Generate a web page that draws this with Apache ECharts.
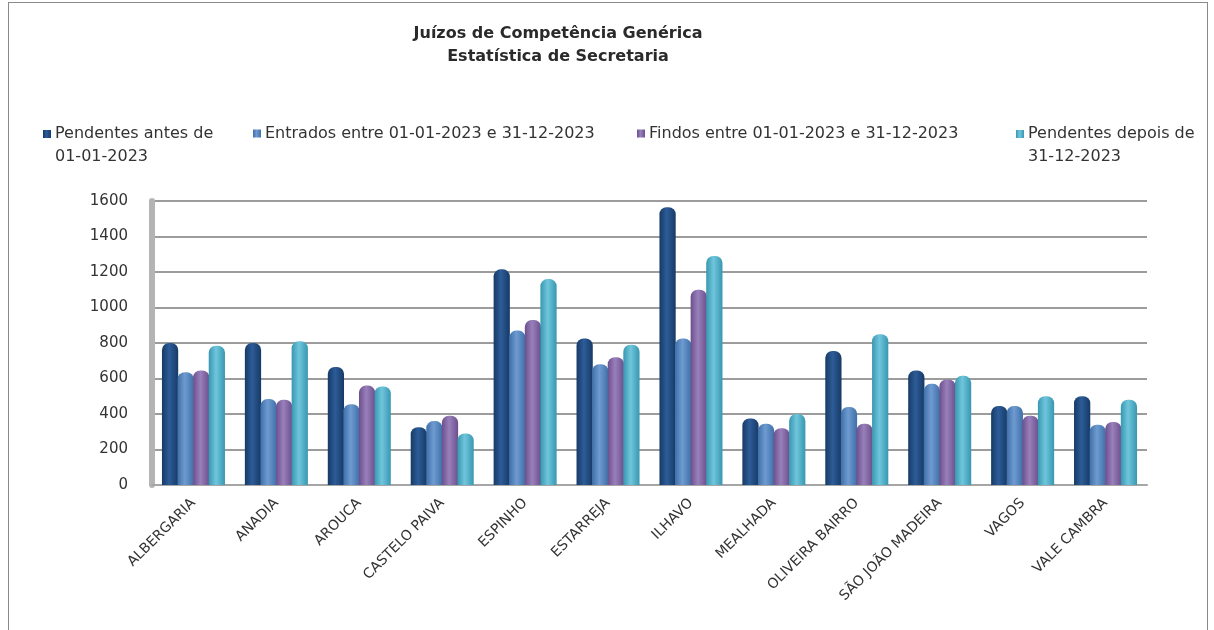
<!DOCTYPE html>
<html>
<head>
<meta charset="utf-8">
<script src="https://cdn.jsdelivr.net/npm/echarts@6/dist/echarts.min.js"></script>
<style>
    html, body { margin: 0; padding: 0; background: #fff; }
    #chart { position: absolute; left: 0; top: 0; width: 1214px; height: 630px; }
    #frame { position: absolute; left: 8px; top: 2px; width: 1198px; height: 640px; border: 1px solid #8a8a8a; pointer-events: none; }
</style>
</head>
<body>
<div id="chart"></div>
<div id="frame"></div>
<script>
    const categories = ['ALBERGARIA', 'ANADIA', 'AROUCA', 'CASTELO PAIVA', 'ESPINHO', 'ESTARREJA', 'ILHAVO', 'MEALHADA', 'OLIVEIRA BAIRRO', 'SÃO JOÃO MADEIRA', 'VAGOS', 'VALE CAMBRA']
    const seriesNames = ['Pendentes antes de 01-01-2023', 'Entrados entre 01-01-2023 e 31-12-2023', 'Findos entre 01-01-2023 e 31-12-2023', 'Pendentes depois de 31-12-2023']
    const pendentesAntes = [800, 800, 665, 325, 1215, 825, 1565, 375, 755, 645, 445, 500]
    const entrados = [635, 485, 455, 360, 870, 680, 825, 345, 440, 570, 445, 340]
    const findos = [645, 480, 560, 390, 930, 720, 1100, 320, 345, 595, 390, 355]
    const pendentesDepois = [785, 810, 555, 290, 1160, 790, 1290, 400, 850, 615, 500, 480]
    const yTicks = [0, 200, 400, 600, 800, 1000, 1200, 1400, 1600]

    const font = 'DejaVu Sans'
    // edge / centre / edge tones to fake the cylinder look
    const tones = [
        ['#163a66', '#2d5c98', '#163a66'],
        ['#3f6fa9', '#6e9bd0', '#3f6fa9'],
        ['#6a4f8c', '#9a80bb', '#6a4f8c'],
        ['#3897b0', '#6fc6dc', '#3897b0']
    ]
    const dataSets = [pendentesAntes, entrados, findos, pendentesDepois]

    function grad (t) {
        return new echarts.graphic.LinearGradient(0, 0, 1, 0, [
            {offset: 0, color: t[0]},
            {offset: 0.45, color: t[1]},
            {offset: 1, color: t[2]}
        ])
    }

    // icon whose square sits on the first line of a two-line label
    const topIcon = 'path://M0,0H10V10H0Z M0,37.5L0,37.5'

    function legendFor (i, left, twoLines) {
        return {
            data: [seriesNames[i]],
            left,
            top: 117,
            icon: twoLines ? topIcon : 'rect',
            itemWidth: 8,
            itemHeight: twoLines ? 30 : 8,
            itemGap: 0,
            formatter: name => {
                if (!twoLines) return name
                const cut = name.lastIndexOf(' ')
                return name.slice(0, cut) + '\n' + name.slice(cut + 1)
            },
            textStyle: {
                fontFamily: font,
                fontSize: 16,
                color: '#333',
                lineHeight: 23,
                padding: [0, 0, 0, -1]
            }
        }
    }

    const chart = echarts.init(document.getElementById('chart'), null, {renderer: 'canvas'})

    chart.setOption({
        animation: false,
        backgroundColor: '#fff',
        title: {
            text: 'Juízos de Competência Genérica\nEstatística de Secretaria',
            left: 553,
            top: 17,
            textAlign: 'center',
            textStyle: {
                fontFamily: font,
                fontSize: 16,
                fontWeight: 'bold',
                color: '#2a2a2a',
                lineHeight: 23,
                align: 'center'
            }
        },
        legend: [
            legendFor(0, 38, true),
            legendFor(1, 248, false),
            legendFor(2, 632, false),
            legendFor(3, 1011, true)
        ],
        grid: {
            left: 152,
            right: 67,
            top: 201,
            bottom: 145
        },
        xAxis: {
            type: 'category',
            data: categories,
            axisLine: {lineStyle: {color: '#a6a6a6', width: 2}},
            axisTick: {show: false},
            axisLabel: {
                interval: 0,
                rotate: 45,
                margin: 16,
                fontFamily: font,
                fontSize: 14,
                color: '#333'
            }
        },
        yAxis: {
            type: 'value',
            min: 0,
            max: 1600,
            interval: 200,
            axisLine: {show: true, lineStyle: {color: '#b4b4b4', width: 6}},
            axisTick: {show: false},
            axisLabel: {
                margin: 24,
                fontFamily: font,
                fontSize: 15,
                color: '#333',
                customValues: yTicks,
                formatter: v => String(v)
            },
            splitLine: {lineStyle: {color: '#9c9c9c', width: 2}}
        },
        series: dataSets.map((d, i) => ({
            name: seriesNames[i],
            type: 'bar',
            data: d,
            barGap: '-4%',
            barCategoryGap: '24%',
            itemStyle: {
                color: grad(tones[i]),
                borderRadius: [7, 7, 0, 0]
            }
        }))
    })
</script>
</body>
</html>
